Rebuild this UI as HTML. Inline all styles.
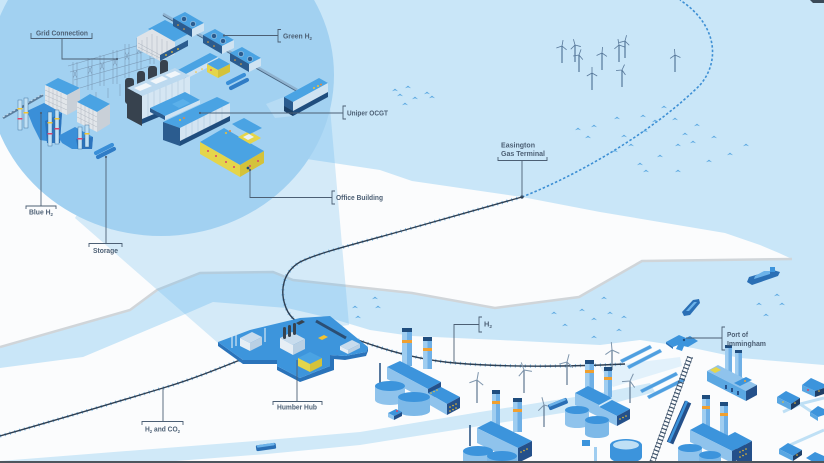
<!DOCTYPE html>
<html><head><meta charset="utf-8"><style>
html,body{margin:0;padding:0;width:824px;height:463px;overflow:hidden;background:#c9e6f8}
svg{display:block}
text{font-family:"Liberation Sans",Arial,sans-serif;font-weight:bold;font-size:7px;fill:#4c5f74}
</style></head><body>
<svg width="824" height="463" viewBox="0 0 824 463" xmlns="http://www.w3.org/2000/svg">
<defs>
<polygon id="w" points="-3,1.2 0,-1.4 3,1.2 0,0.3" fill="#58a6e0"/>
<path id="tb" d="M0,0 L0,-6 M0,0 L5.2,3 M0,0 L-5.2,3" stroke="#58789a" stroke-width="0.8" fill="none"/>
<path id="tl" d="M0,0 L0,-8 M0,0 L7,4 M0,0 L-7,4" stroke="#7f96ad" stroke-width="1" fill="none"/>
</defs>

<!-- sea -->
<rect width="824" height="463" fill="#c9e6f8"/>

<!-- north land -->
<polygon points="0,18 60,8 200,60 300,158 380,170 412,181 522,197 600,212 725,233 760,245 779,253 792,259 780,260 642,261 579,297 495,308 412,293 293,280 273,272 200,273 157,290 130,310 0,347" fill="#fbfcfd"/>
<path d="M0,347 L130,310 L157,290 L200,273 L273,272 L293,280 L412,293 L495,308 L579,297 L642,261 L792,259" fill="none" stroke="#d0d5d9" stroke-width="2.5"/>

<!-- south land -->
<polygon points="0,368 83,357 183,315 213,302 287,308 330,318 370,330 412,336 500,340 600,345 640,340 693,348 740,358 824,365 824,463 0,463" fill="#fbfcfd"/>

<!-- bottom band -->
<polygon points="0,461 267,440 360,432 480,412 600,393 650,383 655,392 600,407 480,426 360,445 267,454 150,463 0,463" fill="#d0e9f8"/>
<polygon points="600,367 680,357 682,366 613,387" fill="#e2f1fb"/>

<!-- beam -->
<polygon points="161,74 328,85 349,325 218,343 75,218" fill="rgba(100,180,235,0.26)"/>

<!-- circle -->
<ellipse cx="161" cy="75" rx="173" ry="161" fill="#a2d1f1"/>

<!-- pipelines -->
<g fill="none">
<path d="M522,197 L412,228 C360,243 320,252 300,262 C283,272 280,290 285,305 C288,315 295,322 305,326" stroke="#7dbbe8" stroke-width="3.4" stroke-dasharray="1 4"/>
<path d="M522,197 L412,228 C360,243 320,252 300,262 C283,272 280,290 285,305 C288,315 295,322 305,326" stroke="#2e3f52" stroke-width="1.4"/>
<path d="M358,340 C385,350 420,360 455,363 C500,367 560,367 625,364" stroke="#7dbbe8" stroke-width="3.4" stroke-dasharray="1 4"/>
<path d="M358,340 C385,350 420,360 455,363 C500,367 560,367 625,364" stroke="#2e3f52" stroke-width="1.4"/>
<path d="M0,436 C60,419 120,401 163,388 C190,380 215,370 240,360" stroke="#7dbbe8" stroke-width="3.4" stroke-dasharray="1 4"/>
<path d="M0,436 C60,419 120,401 163,388 C190,380 215,370 240,360" stroke="#2e3f52" stroke-width="1.4"/>
<path d="M522,197 C590,170 660,125 700,85 C720,62 718,25 680,0" stroke="#3d8fd4" stroke-width="1.6" stroke-dasharray="2.5 2"/>
</g>
<circle cx="522" cy="197" r="1.6" fill="#2e3f52"/>
<polygon points="810,0 824,0 824,3 813,3" fill="#3c4a58"/>

<!-- waves -->
<g>
<use href="#w" x="427" y="93"/><use href="#w" x="415" y="98"/><use href="#w" x="432" y="97"/>
<use href="#w" x="664" y="107"/><use href="#w" x="617" y="118"/><use href="#w" x="643" y="116"/>
<use href="#w" x="594" y="126"/><use href="#w" x="578" y="129"/><use href="#w" x="588" y="137"/>
<use href="#w" x="624" y="136"/><use href="#w" x="645" y="131"/><use href="#w" x="655" y="121"/>
<use href="#w" x="675" y="119"/><use href="#w" x="697" y="125"/><use href="#w" x="685" y="134"/>
<use href="#w" x="714" y="137"/><use href="#w" x="693" y="142"/><use href="#w" x="678" y="145"/>
<use href="#w" x="746" y="145"/><use href="#w" x="730" y="154"/><use href="#w" x="709" y="161"/>
<use href="#w" x="660" y="156"/><use href="#w" x="640" y="164"/><use href="#w" x="646" y="171"/>
<use href="#w" x="678" y="171"/><use href="#w" x="631" y="145"/><use href="#w" x="615" y="151"/>
<use href="#w" x="395" y="90"/><use href="#w" x="408" y="87"/><use href="#w" x="400" y="95"/><use href="#w" x="405" y="104"/>
<use href="#w" x="604" y="298"/><use href="#w" x="582" y="310"/><use href="#w" x="554" y="313"/>
<use href="#w" x="594" y="319"/><use href="#w" x="610" y="313"/><use href="#w" x="624" y="317"/>
<use href="#w" x="565" y="325"/><use href="#w" x="619" y="330"/><use href="#w" x="594" y="337"/>
<use href="#w" x="777" y="295"/><use href="#w" x="759" y="304"/><use href="#w" x="782" y="304"/>
<use href="#w" x="766" y="315"/><use href="#w" x="375" y="298"/><use href="#w" x="355" y="307"/>
<use href="#w" x="378" y="307"/><use href="#w" x="358" y="317"/>
</g>

<!-- offshore turbines -->
<g stroke="#3d6387" stroke-width="1">
<line x1="562" y1="63" x2="562" y2="46"/><line x1="575" y1="62" x2="575" y2="45"/>
<line x1="579" y1="72" x2="579" y2="55"/><line x1="602" y1="70" x2="602" y2="53"/>
<line x1="619" y1="62" x2="619" y2="45"/><line x1="625" y1="58" x2="625" y2="41"/>
<line x1="592" y1="90" x2="592" y2="73"/><line x1="622" y1="87" x2="622" y2="70"/>
<line x1="675" y1="72" x2="675" y2="55"/>
</g>
<g>
<use href="#tb" transform="translate(562,46) rotate(10)"/><use href="#tb" transform="translate(575,45) rotate(-15)"/>
<use href="#tb" transform="translate(579,55) rotate(20)"/><use href="#tb" transform="translate(602,53) rotate(5)"/>
<use href="#tb" transform="translate(619,45) rotate(-10)"/><use href="#tb" transform="translate(625,41) rotate(15)"/>
<use href="#tb" transform="translate(592,73) rotate(0)"/><use href="#tb" transform="translate(622,70) rotate(25)"/>
<use href="#tb" transform="translate(675,55) rotate(-5)"/>
</g>

<!-- ships -->
<polygon points="684,316 682,312 693,300 699,299 700,303 690,315" fill="#2a6fb5"/>
<polygon points="686,311 694,302 697,302 689,311" fill="#6cb3ea"/>
<polygon points="747,282 749,277 773,270 780,272 778,276 752,285" fill="#2a6fb5"/>
<polygon points="754,279 770,274 770,271 764,271 755,276" fill="#6cb3ea"/>
<rect x="770" y="267" width="5" height="5" fill="#3c94dc"/>

<!-- ===== CIRCLE CONTENTS ===== -->
<!-- grid lattice -->
<g stroke="#7d9cb8" stroke-width="0.6" fill="none">
<path d="M68,66 L170,36 M70,72 L172,44 M74,80 L168,54 M80,88 L150,66"/>
<path d="M73,62 V92 M77,62 V92 M73,70 L77,78 M77,70 L73,78"/>
<path d="M88,58 V90 M92,58 V90 M88,66 L92,74 M92,66 L88,74"/>
<path d="M100,55 V86 M104,55 V86 M100,62 L104,70 M104,62 L100,70"/>
<path d="M113,50 V84 M117,50 V84 M113,58 L117,66 M117,58 L113,66"/>
<path d="M125,44 V78 M129,44 V78 M125,52 L129,60 M129,52 L125,60"/>
<path d="M137,38 V70 M141,38 V70 M137,46 L141,54 M141,46 L137,54"/>
<path d="M150,34 V64 M154,34 V64 M158,36 V60"/>
<path d="M108,88 V98 M120,84 V96 M96,92 V100"/>
</g>

<!-- battery building -->
<polygon points="148,29 165,20 190,33 173,42" fill="#4aa3e3"/>
<polygon points="137,37 152,29 175,42 175,54 160,61 137,49" fill="#dfe3e8"/>
<path d="M142,40 V51 M147,37 V54 M152,34 V57 M157,36 V59 M162,39 V60 M167,41 V58 M138,43 L160,55 M138,47 L160,58" stroke="#a9b3be" stroke-width="0.5"/>
<polygon points="160,55 188,40 188,46 160,61" fill="#2b5c8f"/>
<circle cx="166" cy="55" r="0.9" fill="#f2c230"/><circle cx="172" cy="52" r="0.9" fill="#f2c230"/><circle cx="178" cy="49" r="0.9" fill="#f2c230"/>

<!-- green H2 rail -->
<path d="M163,14 L297,90" stroke="#8fb2cf" stroke-width="3"/>
<path d="M163,15.5 L297,91.5" stroke="#46627e" stroke-width="0.8"/>
<!-- green H2 boxes -->
<g>
<polygon points="173,18 185,12 204,23 192,29" fill="#4aa3e3"/>
<polygon points="173,18 192,29 192,37 173,26" fill="#2b5c8f"/>
<polygon points="192,29 204,23 204,31 192,37" fill="#cfe3f2"/>
<circle cx="184" cy="19" r="2.6" fill="#2b5c8f" stroke="#a7cbe6" stroke-width="0.6"/><circle cx="193" cy="24" r="2.6" fill="#2b5c8f" stroke="#a7cbe6" stroke-width="0.6"/>
<circle cx="178" cy="25" r="0.8" fill="#f2a630"/><circle cx="184" cy="29" r="0.8" fill="#f2a630"/>
</g>
<g transform="translate(30,17)">
<polygon points="173,18 185,12 204,23 192,29" fill="#4aa3e3"/>
<polygon points="173,18 192,29 192,37 173,26" fill="#2b5c8f"/>
<polygon points="192,29 204,23 204,31 192,37" fill="#cfe3f2"/>
<circle cx="184" cy="19" r="2.6" fill="#2b5c8f" stroke="#a7cbe6" stroke-width="0.6"/><circle cx="193" cy="24" r="2.6" fill="#2b5c8f" stroke="#a7cbe6" stroke-width="0.6"/>
<circle cx="178" cy="25" r="0.8" fill="#f2a630"/><circle cx="184" cy="29" r="0.8" fill="#f2a630"/>
</g>
<g transform="translate(57,35)">
<polygon points="173,18 185,12 204,23 192,29" fill="#4aa3e3"/>
<polygon points="173,18 192,29 192,37 173,26" fill="#2b5c8f"/>
<polygon points="192,29 204,23 204,31 192,37" fill="#cfe3f2"/>
<circle cx="184" cy="19" r="2.6" fill="#2b5c8f" stroke="#a7cbe6" stroke-width="0.6"/><circle cx="193" cy="24" r="2.6" fill="#2b5c8f" stroke="#a7cbe6" stroke-width="0.6"/>
<circle cx="178" cy="25" r="0.8" fill="#f2a630"/><circle cx="184" cy="29" r="0.8" fill="#f2a630"/>
</g>

<!-- long low building -->
<polygon points="178,70 210,53 218,57 186,74" fill="#4aa3e3"/>
<polygon points="186,74 218,57 218,62 186,79" fill="#cfe3f2"/>
<polygon points="178,70 186,74 186,79 178,75" fill="#2b5c8f"/>
<circle cx="196" cy="72" r="0.8" fill="#f2c230"/><circle cx="202" cy="69" r="0.8" fill="#f2c230"/><circle cx="208" cy="66" r="0.8" fill="#f2c230"/>
<!-- small yellow building -->
<polygon points="207,64 219,58 230,64 218,70" fill="#4aa3e3"/>
<polygon points="207,64 218,70 218,78 207,72" fill="#e5d54a"/>
<polygon points="218,70 230,64 230,72 218,78" fill="#d4c23a"/>
<circle cx="211" cy="70" r="0.9" fill="#d9456b"/>
<!-- tubes -->
<rect x="-11" y="-2" width="22" height="4" rx="2" fill="#3a8fd8" transform="translate(236,79) rotate(-27)"/>
<rect x="-11" y="-2" width="22" height="4" rx="2" fill="#2f7cc6" transform="translate(239,84) rotate(-27)"/>

<!-- black stacks -->
<rect x="125" y="78" width="9" height="26" rx="3" fill="#37424e"/>
<rect x="137" y="71" width="8" height="24" rx="3" fill="#37424e"/>
<rect x="148" y="66" width="9" height="22" rx="3" fill="#37424e"/>
<rect x="160" y="60" width="8" height="20" rx="3" fill="#37424e"/>

<!-- big building -->
<polygon points="127,88 175,68 190,76 142,96" fill="#bcd9ef"/>
<polygon points="134,88 146,83 152,86 140,91" fill="#f1f6fa"/>
<polygon points="150,81 162,76 168,79 156,84" fill="#f1f6fa"/>
<polygon points="165,75 175,71 181,74 171,78" fill="#f1f6fa"/>
<polygon points="127,88 142,96 142,126 127,118" fill="#37424e"/>
<polygon points="142,96 190,76 190,104 142,124" fill="#d5e6f3"/>
<path d="M148,93.5 V121.5 M154,91 V119 M160,88.5 V116.5 M166,86 V114 M172,83.5 V111.5 M178,81 V109 M184,78.5 V106.5" stroke="#b0c8dc" stroke-width="0.6"/>
<polygon points="142,119 190,99 190,104 142,124" fill="#1f4d7e"/>
<!-- platform -->
<polygon points="150,108 185,92 200,100 165,116" fill="#4aa3e3"/>
<polygon points="150,108 165,116 165,120 150,112" fill="#2b5c8f"/>
<polygon points="165,116 200,100 200,104 165,120" fill="#cfe3f2"/>
<polygon points="172,104 183,99 190,103 179,108" fill="#5bb0ea"/>

<!-- Uniper OCGT box -->
<polygon points="266,104 284,97 293,116 275,118" fill="#b6dbf4"/>
<polygon points="284,97 319,78 328,83 293,102" fill="#4aa3e3"/>
<polygon points="284,97 293,102 293,116 284,111" fill="#2b5c8f"/>
<polygon points="293,102 328,83 328,97 293,116" fill="#cfe3f2"/>
<polygon points="293,111 328,92 328,97 293,116" fill="#1f4d7e"/>
<polygon points="284,106 293,111 293,116 284,111" fill="#1a3f66"/>
<circle cx="314" cy="88" r="1" fill="#f2c230"/><circle cx="318" cy="86" r="1" fill="#f2c230"/><circle cx="321" cy="84.5" r="1" fill="#e8893a"/>

<!-- long building -->
<polygon points="163,122 217,97 230,103 180,128" fill="#4aa3e3"/>
<polygon points="163,122 180,128 180,146 163,140" fill="#2b5c8f"/>
<polygon points="180,128 230,103 230,121 180,146" fill="#d3e4f2"/>
<path d="M186,125 V143 M192,122 V140 M198,119 V137 M204,116 V134 M210,113 V131 M216,110 V128 M222,107 V125" stroke="#b0c8dc" stroke-width="0.6"/>
<polygon points="180,141 230,116 230,121 180,146" fill="#1f4d7e"/>
<circle cx="180" cy="120" r="1" fill="#f2c230"/><circle cx="184" cy="118" r="1" fill="#e8893a"/>

<!-- office building -->
<polygon points="200,142 224,128 264,151 240,165" fill="#4aa3e3"/>
<polygon points="200,142 240,165 240,177 200,154" fill="#e5d54a"/>
<polygon points="240,165 264,151 264,163 240,177" fill="#d4c23a"/>
<polygon points="238,137 249,131 261,138 250,144" fill="#e5d54a"/>
<polygon points="243,137 249,134 254,137 248,140" fill="#e9f1f7"/>
<polygon points="232,124 244,118 262,128 250,134 238,128" fill="#4aa3e3"/>
<circle cx="208" cy="151" r="1" fill="#d9456b"/><circle cx="216" cy="156" r="1" fill="#d9456b"/>
<circle cx="226" cy="162" r="1" fill="#d9456b"/><circle cx="234" cy="167" r="1" fill="#d9456b"/>
<circle cx="250" cy="166" r="1" fill="#d9456b"/><circle cx="258" cy="161" r="1" fill="#d9456b"/>
<circle cx="248" cy="168" r="1.4" fill="#1f4d7e"/>
<circle cx="226" cy="133" r="1" fill="#f2c230"/><circle cx="230" cy="131" r="1" fill="#e8893a"/>

<!-- Blue H2 -->
<path d="M3,118 L43,95" stroke="#5b7d9c" stroke-width="2.4"/>
<path d="M3,117 L43,94" stroke="#cfe0ee" stroke-width="0.8" stroke-dasharray="2 2"/>
<polygon points="45,85 58,78 80,88 67,95" fill="#4aa3e3"/>
<polygon points="45,85 67,95 67,115 45,105" fill="#e2e6ea"/>
<polygon points="67,95 80,88 80,108 67,115" fill="#c9d0d8"/>
<path d="M49,87 V107 M53,89 V109 M57,91 V111 M61,93 V113 M45,90 L67,100 M45,95 L67,105 M45,100 L67,110" stroke="#aab3bd" stroke-width="0.45"/>
<polygon points="77,102 90,94 110,104 97,112" fill="#4aa3e3"/>
<polygon points="77,102 97,112 97,132 77,122" fill="#e2e6ea"/>
<polygon points="97,112 110,104 110,124 97,132" fill="#c9d0d8"/>
<path d="M81,104 V124 M85,106 V126 M89,108 V128 M93,110 V130 M77,107 L97,117 M77,112 L97,122 M77,117 L97,127" stroke="#aab3bd" stroke-width="0.45"/>
<polygon points="27,111 44,103 62,113 60,143 40,140 33,126" fill="#3a8fd8"/>
<polygon points="45,121 62,113 60,143 47,143" fill="#2c74be"/>
<polygon points="58,136 75,127 93,137 92,149 72,149 62,143" fill="#3a8fd8"/>
<polygon points="76,139 93,137 92,149 78,149" fill="#2c74be"/>
<g fill="#bfe0f5" stroke="#2f5f8e" stroke-width="0.4">
<rect x="18" y="100" width="4" height="30"/><rect x="24" y="98" width="4" height="30"/>
<rect x="48" y="112" width="4" height="34"/><rect x="55" y="110" width="4" height="34"/>
<rect x="78" y="127" width="4" height="22"/><rect x="85" y="125" width="4" height="22"/>
</g>
<g fill="#f2c230"><rect x="17.5" y="108" width="5" height="1.5"/><rect x="23.5" y="112" width="5" height="1.5"/>
<rect x="47.5" y="122" width="5" height="1.5"/><rect x="54.5" y="118" width="5" height="1.5"/><rect x="84.5" y="133" width="5" height="1.5"/></g>
<g fill="#d9456b"><rect x="17.5" y="118" width="5" height="1.5"/><rect x="47.5" y="133" width="5" height="1.5"/><rect x="77.5" y="138" width="5" height="1.5"/><rect x="54.5" y="128" width="5" height="1.5"/></g>

<!-- storage -->
<rect x="-11" y="-2" width="22" height="4" rx="2" fill="#3a8fd8" transform="translate(104,149) rotate(-27)"/>
<rect x="-11" y="-2" width="22" height="4" rx="2" fill="#2f7cc6" transform="translate(106,153) rotate(-27)"/>

<!-- ===== HUB ===== -->
<polygon points="218,342 243,360 277,360 277,366 300,378 330,366 330,355 345,356 366,352 368,347 368,351 366,356 345,360 334,359 334,370 300,382 277,370 277,364 243,364 218,346" fill="#2a73ba"/>
<polygon points="218,342 250,330 300,318 330,316 368,347 366,352 345,356 330,355 330,366 300,378 277,366 277,360 243,360" fill="#3d95dc"/>
<polygon points="240,338 252,332 262,337 250,343" fill="#c8dced"/>
<polygon points="240,338 250,343 250,351 240,346" fill="#e6eef5"/>
<polygon points="250,343 262,337 262,345 250,351" fill="#b9d0e4"/>
<g stroke="#d5e6f3" stroke-width="1.2"><line x1="232" y1="334" x2="232" y2="348"/><line x1="236" y1="332" x2="236" y2="346"/><line x1="265" y1="328" x2="265" y2="342"/></g>
<polygon points="280,338 292,332 305,339 293,345" fill="#c8dced"/>
<polygon points="280,338 293,345 293,355 280,348" fill="#e6eef5"/>
<polygon points="293,345 305,339 305,349 293,355" fill="#b9d0e4"/>
<rect x="283" y="327" width="3" height="12" rx="1.5" fill="#37424e"/><rect x="288" y="325" width="3" height="12" rx="1.5" fill="#37424e"/><rect x="293" y="323" width="3" height="12" rx="1.5" fill="#37424e"/>
<polygon points="296,323 302,320 305,322 299,325" fill="#37424e"/>
<path d="M316,321 L346,338" stroke="#2b4e74" stroke-width="3"/>
<polygon points="298,358 310,352 322,358 310,364" fill="#4aa3e3"/>
<polygon points="298,358 310,364 310,372 298,366" fill="#e5d54a"/>
<polygon points="310,364 322,358 322,366 310,372" fill="#d4c23a"/>
<polygon points="340,346 352,340 360,344 348,350" fill="#c8dced"/>
<polygon points="340,346 348,350 348,354 340,350" fill="#e6eef5"/>
<polygon points="348,350 360,344 360,348 348,354" fill="#b9d0e4"/>
<polygon points="318,338 324,335 328,337 322,340" fill="#f2c230"/>

<!-- ===== SOUTH BANK ===== -->
<!-- solar rows -->
<g fill="#4f9fe0" stroke="#9fcdf0" stroke-width="0.4">
<polygon points="620,360 650,345 652,348 622,363"/>
<polygon points="627,366 660,349 662,352 629,369"/>
<polygon points="640,390 676,372 678,375 642,393"/>
<polygon points="647,396 683,378 685,381 649,399"/>
</g>
<!-- railway -->
<path d="M690,357 L652,463" stroke="#3b5068" stroke-width="6" stroke-dasharray="1.2 2.6"/>
<path d="M687.5,357 L649.5,463 M692.5,357 L654.5,463" stroke="#3b5068" stroke-width="0.6"/>
<path d="M688,402 L670,443" stroke="#24508a" stroke-width="7"/>
<path d="M687,401 L669,442" stroke="#3c94dc" stroke-width="2.5"/>
<!-- pier -->
<polygon points="666,342 679,335 686,338 690,336 698,341 688,347 684,346 682,351 676,349 678,345 673,347" fill="#3c94dc"/>
<polygon points="666,342 673,347 673,349 666,344" fill="#2a73ba"/>
<circle cx="684" cy="340" r="1.2" fill="#1f4d7e"/>

<!-- land turbines -->
<g stroke="#5f7890" stroke-width="1.2">
<line x1="477" y1="403" x2="477" y2="380"/><line x1="524" y1="393" x2="524" y2="370"/>
<line x1="567" y1="385" x2="567" y2="362"/><line x1="612" y1="370" x2="612" y2="350"/>
<line x1="630" y1="403" x2="630" y2="381"/><line x1="544" y1="427" x2="544" y2="405"/>
</g>
<use href="#tl" transform="translate(477,380) rotate(10)"/><use href="#tl" transform="translate(524,370) rotate(-20)"/>
<use href="#tl" transform="translate(567,362) rotate(15)"/><use href="#tl" transform="translate(612,350) rotate(-5)"/>
<use href="#tl" transform="translate(630,381) rotate(25)"/><use href="#tl" transform="translate(544,405) rotate(-15)"/>

<!-- buses -->
<rect x="-10" y="-3" width="20" height="6" rx="1.5" fill="#2a6fb5" transform="translate(266,447) rotate(-8)"/>
<rect x="-9" y="-3" width="18" height="2.5" rx="1" fill="#6cb3ea" transform="translate(266,447) rotate(-8)"/>
<rect x="-10" y="-3" width="20" height="6" rx="1.5" fill="#2a6fb5" transform="translate(558,404) rotate(-22)"/>
<rect x="-9" y="-3" width="18" height="2.5" rx="1" fill="#6cb3ea" transform="translate(558,404) rotate(-22)"/>

<!-- Factory A -->
<rect x="402" y="328" width="10" height="38" fill="#9fcdf0"/><rect x="407" y="328" width="5" height="38" fill="#6fb0e6"/>
<rect x="402" y="328" width="10" height="4" fill="#1f4d7e"/><rect x="402" y="340" width="10" height="3" fill="#f0a030"/>
<rect x="423" y="337" width="9" height="32" fill="#9fcdf0"/><rect x="427.5" y="337" width="4.5" height="32" fill="#6fb0e6"/>
<rect x="423" y="337" width="9" height="4" fill="#1f4d7e"/><rect x="423" y="348" width="9" height="3" fill="#f0a030"/>
<line x1="380" y1="363" x2="380" y2="384" stroke="#1f4d7e" stroke-width="1.5"/>
<polygon points="387,367 400,361 441,382 428,389" fill="#3c94dc"/>
<polygon points="387,367 428,389 428,401 387,379" fill="#8fc3ec"/>
<polygon points="428,389 441,382 441,394 428,401" fill="#24508a"/>
<polygon points="428,393 441,387 460,397 447,404" fill="#3c94dc"/>
<polygon points="428,393 447,404 447,415 428,404" fill="#8fc3ec"/>
<polygon points="447,404 460,397 460,408 447,415" fill="#24508a"/>
<g fill="#f2c230"><circle cx="431" cy="393" r="0.8"/><circle cx="434" cy="391.5" r="0.8"/><circle cx="437" cy="390" r="0.8"/>
<circle cx="450" cy="407" r="0.8"/><circle cx="453" cy="405.5" r="0.8"/><circle cx="456" cy="404" r="0.8"/><circle cx="450" cy="411" r="0.8"/><circle cx="453" cy="409.5" r="0.8"/><circle cx="456" cy="408" r="0.8"/></g>
<rect x="375" y="386" width="30" height="14" fill="#8fc3ec"/><ellipse cx="390" cy="400" rx="15" ry="5" fill="#8fc3ec"/><ellipse cx="390" cy="386" rx="15" ry="5" fill="#3c94dc"/>
<rect x="398" y="397" width="32" height="14" fill="#7db9e8"/><ellipse cx="414" cy="411" rx="16" ry="5" fill="#7db9e8"/><ellipse cx="414" cy="397" rx="16" ry="5" fill="#3c94dc"/>
<polygon points="388,413 396,409 402,412 394,416" fill="#3c94dc"/><polygon points="388,413 394,416 394,420 388,417" fill="#8fc3ec"/><polygon points="394,416 402,412 402,416 394,420" fill="#24508a"/>
<circle cx="397" cy="411" r="1" fill="#d9456b"/>

<!-- Factory B -->
<rect x="492" y="390" width="8" height="36" fill="#9fcdf0"/><rect x="496" y="390" width="4" height="36" fill="#6fb0e6"/>
<rect x="492" y="390" width="8" height="4" fill="#1f4d7e"/><rect x="492" y="401" width="8" height="3" fill="#f0a030"/>
<rect x="513" y="398" width="9" height="34" fill="#9fcdf0"/><rect x="517.5" y="398" width="4.5" height="34" fill="#6fb0e6"/>
<rect x="513" y="398" width="9" height="4" fill="#1f4d7e"/><rect x="513" y="409" width="9" height="3" fill="#f0a030"/>
<line x1="470" y1="425" x2="470" y2="446" stroke="#1f4d7e" stroke-width="1.5"/>
<polygon points="477,428 491,421 532,441 518,448" fill="#3c94dc"/>
<polygon points="477,428 518,448 518,463 477,443" fill="#8fc3ec"/>
<polygon points="518,448 532,441 532,456 518,463" fill="#24508a"/>
<g fill="#f2c230"><circle cx="521" cy="452" r="0.8"/><circle cx="524" cy="450.5" r="0.8"/><circle cx="527" cy="449" r="0.8"/></g>
<rect x="463" y="451" width="30" height="12" fill="#8fc3ec"/><ellipse cx="478" cy="451" rx="15" ry="5" fill="#3c94dc"/>
<rect x="487" y="456" width="30" height="7" fill="#7db9e8"/><ellipse cx="502" cy="456" rx="15" ry="5" fill="#3c94dc"/>

<!-- Factory C -->
<rect x="585" y="360" width="9" height="30" fill="#9fcdf0"/><rect x="589.5" y="360" width="4.5" height="30" fill="#6fb0e6"/>
<rect x="585" y="360" width="9" height="4" fill="#1f4d7e"/><rect x="585" y="370" width="9" height="3" fill="#f0a030"/>
<rect x="604" y="367" width="8" height="30" fill="#9fcdf0"/><rect x="608" y="367" width="4" height="30" fill="#6fb0e6"/>
<rect x="604" y="367" width="8" height="4" fill="#1f4d7e"/><rect x="604" y="377" width="8" height="3" fill="#f0a030"/>
<polygon points="575,393 588,386 612,398 599,405" fill="#3c94dc"/>
<polygon points="575,393 599,405 599,417 575,405" fill="#8fc3ec"/>
<polygon points="599,407 612,400 630,409 617,416" fill="#3c94dc"/>
<polygon points="599,407 617,416 617,426 599,417" fill="#8fc3ec"/>
<polygon points="617,416 630,409 630,419 617,426" fill="#24508a"/>
<g fill="#f2c230"><circle cx="620" cy="419" r="0.8"/><circle cx="623" cy="417.5" r="0.8"/><circle cx="626" cy="416" r="0.8"/></g>
<rect x="565" y="410" width="24" height="14" fill="#8fc3ec"/><ellipse cx="577" cy="424" rx="12" ry="4" fill="#8fc3ec"/><ellipse cx="577" cy="410" rx="12" ry="4" fill="#3c94dc"/>
<rect x="585" y="420" width="24" height="14" fill="#7db9e8"/><ellipse cx="597" cy="434" rx="12" ry="4" fill="#7db9e8"/><ellipse cx="597" cy="420" rx="12" ry="4" fill="#3c94dc"/>
<rect x="610" y="445" width="32" height="12" fill="#3c94dc"/><ellipse cx="626" cy="457" rx="16" ry="6" fill="#3c94dc"/>
<ellipse cx="626" cy="445" rx="16" ry="6" fill="#3c94dc"/><ellipse cx="626" cy="445" rx="13" ry="4.5" fill="#bfe0f5"/>
<rect x="582" y="440" width="8" height="6" fill="#3c94dc"/><rect x="594" y="447" width="3" height="14" fill="#9fcdf0"/>

<!-- Port building -->
<rect x="725" y="345" width="7" height="34" fill="#9fcdf0"/><rect x="728.5" y="345" width="3.5" height="34" fill="#6fb0e6"/><rect x="725" y="345" width="7" height="3" fill="#1f4d7e"/>
<rect x="735" y="350" width="7" height="33" fill="#9fcdf0"/><rect x="738.5" y="350" width="3.5" height="33" fill="#6fb0e6"/><rect x="735" y="350" width="7" height="3" fill="#1f4d7e"/>
<polygon points="707,371 718,365 757,385 746,391" fill="#8fc3ec"/>
<polygon points="707,371 746,391 746,401 707,381" fill="#5aa7e2"/>
<polygon points="746,391 757,385 757,395 746,401" fill="#24508a"/>
<polygon points="710,370 716,367 721,370 715,373" fill="#e5d54a"/>
<polygon points="734,383 746,377 752,380 740,386" fill="#3c94dc"/>
<g fill="#24508a"><rect x="725" y="385" width="2" height="4"/><rect x="731" y="388" width="2" height="4"/><rect x="737" y="391" width="2" height="4"/></g>
<circle cx="745" cy="381" r="1" fill="#f0a030"/>

<!-- Factory D -->
<rect x="702" y="395" width="8" height="38" fill="#9fcdf0"/><rect x="706" y="395" width="4" height="38" fill="#6fb0e6"/>
<rect x="702" y="395" width="8" height="4" fill="#1f4d7e"/><rect x="702" y="406" width="8" height="3" fill="#f0a030"/>
<rect x="720" y="402" width="8" height="34" fill="#9fcdf0"/><rect x="724" y="402" width="4" height="34" fill="#6fb0e6"/>
<rect x="720" y="402" width="8" height="4" fill="#1f4d7e"/><rect x="720" y="413" width="8" height="3" fill="#f0a030"/>
<polygon points="690,430 703,423 745,444 732,451" fill="#3c94dc"/>
<polygon points="690,430 732,451 732,463 690,442" fill="#8fc3ec"/>
<polygon points="732,451 745,444 745,456 732,463" fill="#24508a"/>
<polygon points="720,440 735,432 752,441 737,449" fill="#3c94dc"/>
<polygon points="737,449 752,441 752,463 737,463" fill="#24508a"/>
<g fill="#f2c230"><circle cx="740" cy="452" r="0.8"/><circle cx="743" cy="450.5" r="0.8"/><circle cx="746" cy="449" r="0.8"/><circle cx="740" cy="457" r="0.8"/><circle cx="743" cy="455.5" r="0.8"/><circle cx="746" cy="454" r="0.8"/></g>
<rect x="678" y="448" width="24" height="15" fill="#8fc3ec"/><ellipse cx="690" cy="448" rx="12" ry="4" fill="#3c94dc"/>
<rect x="699" y="455" width="22" height="8" fill="#7db9e8"/><ellipse cx="710" cy="455" rx="11" ry="4" fill="#3c94dc"/>

<!-- houses & roads -->
<path d="M783,412 L800,404 L824,398 M800,404 L812,412 M790,445 L824,430" stroke="#bfe0f5" stroke-width="3" fill="none"/>
<g>
<polygon points="777,397 786,391 800,398 791,404" fill="#3c94dc"/><polygon points="777,397 791,404 791,410 777,403" fill="#5aa7e2"/><polygon points="791,404 800,398 800,404 791,410" fill="#1f3f66"/>
<polygon points="802,385 811,378 824,384 824,388 815,391" fill="#3c94dc"/><polygon points="802,385 815,391 815,397 802,391" fill="#5aa7e2"/><polygon points="815,391 824,388 824,394 815,397" fill="#1f3f66"/>
<polygon points="810,412 818,406 824,409 824,415 818,417" fill="#3c94dc"/><polygon points="810,412 818,417 818,421 810,416" fill="#5aa7e2"/>
<polygon points="779,449 788,443 802,450 793,456" fill="#3c94dc"/><polygon points="779,449 793,456 793,461 779,454" fill="#5aa7e2"/><polygon points="793,456 802,450 802,455 793,461" fill="#1f3f66"/>
<polygon points="806,458 815,452 824,456 824,463 815,463" fill="#3c94dc"/>
</g>
<g fill="#f2c230"><circle cx="795" cy="403" r="0.8"/><circle cx="819" cy="391" r="0.8"/><circle cx="797" cy="455" r="0.8"/><circle cx="783" cy="402" r="0.8"/></g>
<circle cx="808" cy="390" r="1" fill="#d9456b"/>

<!-- ===== LABELS ===== -->
<g fill="none" stroke="#4c5f74" stroke-width="0.9">
<path d="M31,33 V38.5 H92 V33"/><path d="M62,38.5 V59 H117"/>
<path d="M281,29.5 H278 V42 H281"/><path d="M278,35.5 H224"/>
<path d="M346,106 H343 V119 H346"/><path d="M343,113 H200"/>
<path d="M335,191 H332 V204 H335"/><path d="M332,197.5 H250 V170"/>
<path d="M26,209 V206 H56 V209"/><path d="M41,113 V206"/>
<path d="M89,247 V243.5 H122 V247"/><path d="M106,157 V243.5"/>
<path d="M498,157 V160.5 H547 V157"/><path d="M522,160.5 V197"/>
<path d="M273,405 V401.5 H322 V405"/><path d="M297,360 V401.5"/>
<path d="M142,425 V421.5 H183 V425"/><path d="M163,388 V421.5"/>
<path d="M482,317 H479 V332 H482"/><path d="M479,324.5 H454 V363"/>
<path d="M725,327 H722 V350 H725"/><path d="M722,338 H686"/>
</g>
<g fill="#4c5f74"><circle cx="224" cy="35.5" r="1.1"/><circle cx="200" cy="113" r="1.1"/><circle cx="41" cy="113" r="1.1"/><circle cx="106" cy="157" r="1.1"/><circle cx="250" cy="170" r="1.1"/><circle cx="117" cy="59" r="1.1"/></g>

<text x="36" y="35.5" textLength="52" lengthAdjust="spacingAndGlyphs">Grid Connection</text>
<text x="283" y="38.5" textLength="29" lengthAdjust="spacingAndGlyphs">Green H<tspan font-size="4.5" dy="1.5">2</tspan></text>
<text x="347" y="115.5" textLength="41" lengthAdjust="spacingAndGlyphs">Uniper OCGT</text>
<text x="336" y="200" textLength="47" lengthAdjust="spacingAndGlyphs">Office Building</text>
<text x="29" y="214.5" textLength="24" lengthAdjust="spacingAndGlyphs">Blue H<tspan font-size="4.5" dy="1.5">2</tspan></text>
<text x="93" y="253" textLength="25" lengthAdjust="spacingAndGlyphs">Storage</text>
<text x="501" y="147.5" textLength="34" lengthAdjust="spacingAndGlyphs">Easington</text>
<text x="501" y="156" textLength="44" lengthAdjust="spacingAndGlyphs">Gas Terminal</text>
<text x="277" y="409.5" textLength="40" lengthAdjust="spacingAndGlyphs">Humber Hub</text>
<text x="145" y="431.5" textLength="35" lengthAdjust="spacingAndGlyphs">H<tspan font-size="4.5" dy="1.5">2</tspan><tspan dy="-1.5"> and CO</tspan><tspan font-size="4.5" dy="1.5">2</tspan></text>
<text x="484" y="326.5" textLength="8" lengthAdjust="spacingAndGlyphs">H<tspan font-size="4.5" dy="1.5">2</tspan></text>
<text x="727" y="337" textLength="21" lengthAdjust="spacingAndGlyphs">Port of</text>
<text x="727" y="346" textLength="39" lengthAdjust="spacingAndGlyphs">Immingham</text>

<!-- bottom bar -->
<rect x="0" y="461" width="824" height="2" fill="#4d555d"/>
</svg>
</body></html>
